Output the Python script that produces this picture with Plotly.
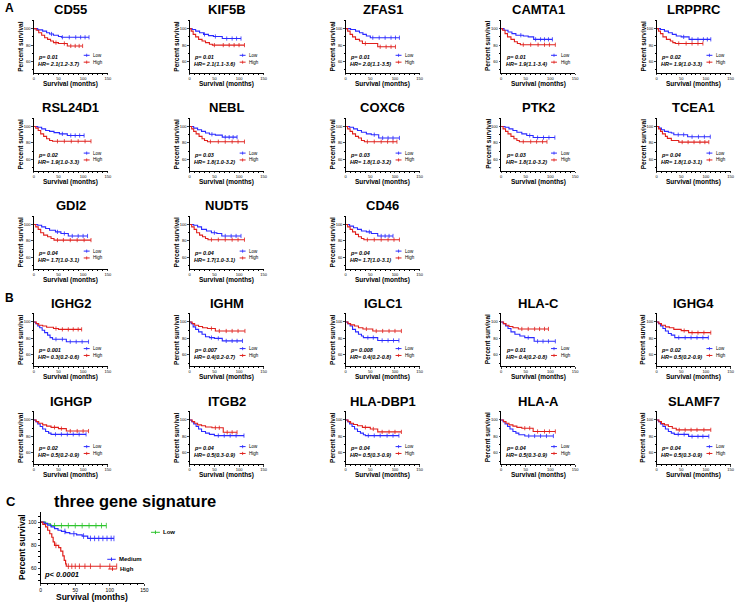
import plotly.graph_objects as go

# ------------------------------------------------------------------ data
A_GENES = ["CD55", "KIF5B", "ZFAS1", "CAMTA1", "LRPPRC",
           "RSL24D1", "NEBL", "COXC6", "PTK2", "TCEA1",
           "GDI2", "NUDT5", "CD46"]
A_P = ["0.01", "0.01", "0.01", "0.01", "0.02",
       "0.02", "0.03", "0.03", "0.03", "0.04",
       "0.04", "0.04", "0.04"]
A_HR = ["2.1(1.2-3.7)", "2.1(1.1-3.6)", "2.0(1.1-3.5)", "1.9(1.1-3.4)", "1.9(1.0-3.3)",
        "1.9(1.0-3.3)", "1.8(1.0-3.2)", "1.8(1.0-3.2)", "1.8(1.0-3.2)", "1.8(1.0-3.1)",
        "1.7(1.0-3.1)", "1.7(1.0-3.1)", "1.7(1.0-3.1)"]

B_GENES = ["IGHG2", "IGHM", "IGLC1", "HLA-C", "IGHG4",
           "IGHGP", "ITGB2", "HLA-DBP1", "HLA-A", "SLAMF7"]
B_P = ["0.001", "0.007", "0.008", "0.01", "0.02",
       "0.02", "0.04", "0.04", "0.04", "0.04"]
B_HR = ["0.3(0.2-0.6)", "0.4(0.2-0.7)", "0.4(0.2-0.8)", "0.4(0.2-0.8)", "0.5(0.2-0.9)",
        "0.5(0.2-0.9)", "0.5(0.3-0.9)", "0.5(0.3-0.9)", "0.5(0.3-0.9)", "0.5(0.3-0.9)"]

# Kaplan-Meier curves: (months, percent survival) at each step, and censor times
CD55_LOW = [(0, 100), (8, 98.5), (18, 97), (26, 95), (32, 93.5), (40, 92), (50, 90.5), (56, 89.5), (112, 89.5)]
CD55_LOW_C = [36, 58, 72, 85, 95, 104, 112]
CD55_HIGH = [(0, 100), (5, 98), (10, 95), (16, 92), (22, 89), (28, 87), (34, 85), (40, 83), (50, 82), (68, 79), (99, 79)]
CD55_HIGH_C = [45, 62, 75, 84, 92, 99]

KIF5B_LOW = [(0, 100), (5, 99), (12, 97), (20, 95), (28, 93), (38, 91.5), (48, 90.5), (66, 88), (104, 88)]
KIF5B_LOW_C = [30, 52, 75, 86, 95, 104]
KIF5B_HIGH = [(0, 100), (3, 97), (7, 93), (12, 90), (18, 87), (25, 85), (32, 83), (40, 81), (46, 80), (111, 80)]
KIF5B_HIGH_C = [50, 68, 80, 90, 100, 111]

ZFAS1_LOW = [(0, 100), (10, 99), (20, 97), (28, 95), (35, 93), (42, 91), (50, 89), (109, 89)]
ZFAS1_LOW_C = [55, 68, 80, 92, 101, 109]
ZFAS1_HIGH = [(0, 100), (4, 97), (9, 93), (14, 90), (20, 87), (28, 85), (34, 82), (65, 78), (101, 78)]
ZFAS1_HIGH_C = [40, 70, 82, 92, 101]

CAMTA1_LOW = [(0, 100), (6, 98), (14, 96), (22, 94), (30, 92), (45, 91), (55, 90), (66, 87), (104, 87)]
CAMTA1_LOW_C = [40, 70, 80, 88, 96, 104]
CAMTA1_HIGH = [(0, 100), (3, 98), (8, 94), (13, 90), (20, 87), (27, 84), (33, 82), (39, 80.5), (110, 80.5)]
CAMTA1_HIGH_C = [45, 60, 75, 88, 98, 110]

LRPPRC_LOW = [(0, 100), (8, 99), (16, 97), (24, 95), (32, 93), (40, 91), (50, 90), (66, 87), (110, 87)]
LRPPRC_LOW_C = [55, 72, 84, 95, 103, 110]
LRPPRC_HIGH = [(0, 100), (4, 97), (8, 94), (13, 90), (20, 87), (28, 85), (33, 83), (38, 82), (94, 82)]
LRPPRC_HIGH_C = [45, 60, 72, 84, 94]

RSL24D1_LOW = [(0, 100), (8, 99), (16, 97), (24, 95), (32, 94), (41, 92.5), (52, 91), (68, 89), (102, 89)]
RSL24D1_LOW_C = [58, 75, 84, 93, 102]
RSL24D1_HIGH = [(0, 100), (4, 98), (9, 95), (14, 91), (20, 88), (26, 85), (32, 83), (38, 82), (116, 82)]
RSL24D1_HIGH_C = [48, 62, 76, 90, 104, 116]

NEBL_LOW = [(0, 100), (8, 98), (16, 96), (24, 94), (32, 92), (40, 90.5), (52, 89.5), (66, 87), (96, 87)]
NEBL_LOW_C = [45, 72, 80, 88, 96]
NEBL_HIGH = [(0, 100), (4, 97), (8, 94), (13, 91), (19, 88), (25, 85), (30, 83), (36, 81.5), (111, 81.5)]
NEBL_HIGH_C = [42, 58, 72, 86, 98, 111]

COXC6_LOW = [(0, 100), (8, 99), (16, 97), (24, 95), (32, 93), (42, 91), (52, 90), (67, 86), (109, 86)]
COXC6_LOW_C = [58, 75, 86, 96, 109]
COXC6_HIGH = [(0, 100), (4, 97), (9, 94), (14, 91), (20, 88), (26, 86), (32, 83), (38, 81.5), (104, 81.5)]
COXC6_HIGH_C = [44, 58, 72, 85, 96, 104]

PTK2_LOW = [(0, 100), (8, 99), (16, 97), (24, 95), (32, 93), (42, 91), (52, 89), (65, 86.5), (109, 86.5)]
PTK2_LOW_C = [58, 74, 86, 97, 109]
PTK2_HIGH = [(0, 100), (4, 97), (9, 94), (14, 91), (20, 88), (26, 85), (32, 83), (37, 81.5), (93, 81.5)]
PTK2_HIGH_C = [45, 60, 72, 84, 93]

TCEA1_LOW = [(0, 100), (5, 98), (10, 96), (16, 94), (24, 93), (30, 92), (35, 90), (63, 87.5), (109, 87.5)]
TCEA1_LOW_C = [44, 55, 72, 85, 97, 109]
TCEA1_HIGH = [(0, 100), (4, 97), (8, 94), (12, 91), (18, 88), (22, 85.5), (30, 83), (45, 81), (106, 81)]
TCEA1_HIGH_C = [52, 64, 76, 88, 98, 106]

GDI2_LOW = [(0, 100), (8, 99), (16, 97), (24, 95), (32, 93), (44, 91), (55, 89), (70, 86), (109, 86)]
GDI2_LOW_C = [48, 62, 78, 90, 100, 109]
GDI2_HIGH = [(0, 100), (4, 97), (9, 94), (14, 90), (20, 87), (28, 85), (35, 83), (41, 81), (116, 81)]
GDI2_HIGH_C = [48, 60, 74, 88, 102, 116]

NUDT5_LOW = [(0, 100), (8, 99), (16, 97), (24, 94), (34, 92), (44, 90), (55, 89), (65, 86), (104, 86)]
NUDT5_LOW_C = [50, 72, 84, 94, 104]
NUDT5_HIGH = [(0, 100), (4, 97), (9, 94), (14, 90), (20, 87), (26, 85), (32, 83), (37, 81.5), (111, 81.5)]
NUDT5_HIGH_C = [44, 58, 72, 86, 98, 111]

CD46_LOW = [(0, 100), (8, 98), (16, 96), (24, 94), (32, 92), (42, 91), (52, 89), (65, 86), (96, 86)]
CD46_LOW_C = [48, 72, 80, 88, 96]
CD46_HIGH = [(0, 100), (4, 97), (9, 94), (14, 91), (20, 88), (26, 85), (32, 83), (37, 81.5), (109, 81.5)]
CD46_HIGH_C = [44, 58, 72, 86, 98, 109]

IGHG2_LOW = [(0, 100), (4, 98), (8, 95), (12, 93), (17, 90), (22, 87), (28, 84), (33, 81), (38, 79), (66, 76), (111, 76)]
IGHG2_LOW_C = [45, 58, 74, 86, 98, 111]
IGHG2_HIGH = [(0, 100), (5, 98), (10, 96), (18, 95), (26, 93.5), (40, 92), (50, 91), (97, 91)]
IGHG2_HIGH_C = [45, 58, 70, 80, 90, 97]

IGHM_LOW = [(0, 100), (3, 98), (7, 94), (12, 91), (18, 88), (25, 85), (32, 82), (40, 81), (50, 80), (66, 77), (107, 77)]
IGHM_LOW_C = [44, 58, 74, 86, 96, 107]
IGHM_HIGH = [(0, 100), (5, 98), (10, 96), (18, 94.5), (26, 93), (36, 92), (52, 89), (112, 89)]
IGHM_HIGH_C = [44, 60, 74, 86, 98, 112]

IGLC1_LOW = [(0, 100), (4, 98), (9, 95), (14, 91), (20, 88), (26, 85), (32, 83), (36, 81), (65, 77.5), (108, 77.5)]
IGLC1_LOW_C = [45, 56, 74, 86, 97, 108]
IGLC1_HIGH = [(0, 100), (5, 98), (10, 96.5), (18, 95), (26, 93), (35, 91.5), (55, 89), (113, 89)]
IGLC1_HIGH_C = [42, 62, 75, 88, 100, 113]

HLAC_LOW = [(0, 100), (4, 98), (9, 95), (14, 92), (20, 88), (28, 85), (38, 83), (48, 81), (67, 76.5), (110, 76.5)]
HLAC_LOW_C = [55, 74, 85, 96, 110]
HLAC_HIGH = [(0, 100), (5, 98), (10, 96), (16, 94.5), (24, 93), (35, 91.5), (96, 91.5)]
HLAC_HIGH_C = [42, 55, 68, 78, 88, 96]

IGHG4_LOW = [(0, 100), (4, 98), (8, 95), (13, 92), (18, 89), (24, 86), (30, 84), (37, 81), (105, 81)]
IGHG4_LOW_C = [45, 58, 70, 82, 94, 105]
IGHG4_HIGH = [(0, 100), (5, 98), (10, 96), (18, 94), (26, 93), (35, 91), (50, 89.5), (65, 87), (110, 87)]
IGHG4_HIGH_C = [56, 72, 84, 96, 110]

IGHGP_LOW = [(0, 100), (4, 98), (8, 95), (13, 92), (18, 89), (24, 86), (30, 84), (35, 82.5), (106, 82.5)]
IGHGP_LOW_C = [44, 56, 68, 80, 92, 106]
IGHGP_HIGH = [(0, 100), (5, 98), (10, 96), (18, 94), (26, 92.5), (35, 91), (50, 89.5), (66, 86.5), (111, 86.5)]
IGHGP_HIGH_C = [42, 56, 74, 88, 100, 111]

ITGB2_LOW = [(0, 100), (4, 98), (8, 95), (13, 92), (18, 89), (24, 86), (32, 84), (40, 82.5), (50, 81), (110, 81)]
ITGB2_LOW_C = [58, 70, 82, 94, 110]
ITGB2_HIGH = [(0, 100), (5, 98), (10, 96), (16, 94), (24, 93), (32, 91.5), (45, 90.5), (68, 85), (96, 85)]
ITGB2_HIGH_C = [52, 60, 76, 86, 96]

HLADBP1_LOW = [(0, 100), (4, 98), (8, 95), (13, 92), (18, 89), (24, 86), (30, 84), (36, 82), (40, 81), (108, 81)]
HLADBP1_LOW_C = [46, 58, 70, 84, 96, 108]
HLADBP1_HIGH = [(0, 100), (5, 98), (10, 96), (16, 94.5), (24, 93), (34, 91), (50, 89), (65, 85.5), (113, 85.5)]
HLADBP1_HIGH_C = [40, 56, 74, 88, 100, 113]

HLAA_LOW = [(0, 100), (4, 98), (8, 95), (13, 92), (18, 89), (24, 86), (30, 84), (36, 82), (48, 80.5), (106, 80.5)]
HLAA_LOW_C = [56, 68, 80, 92, 106]
HLAA_HIGH = [(0, 100), (5, 98), (10, 96), (16, 94), (24, 92.5), (32, 91), (42, 90), (65, 86), (110, 86)]
HLAA_HIGH_C = [48, 58, 74, 88, 98, 110]

SLAMF7_LOW = [(0, 100), (4, 98), (8, 95), (13, 92), (18, 89), (24, 86), (30, 84), (36, 82.5), (65, 80), (106, 80)]
SLAMF7_LOW_C = [44, 56, 72, 84, 94, 106]
SLAMF7_HIGH = [(0, 100), (5, 98), (10, 95.5), (16, 94), (24, 92), (32, 90), (40, 88), (110, 88)]
SLAMF7_HIGH_C = [46, 58, 70, 82, 96, 110]

# Panel C: three gene signature
C_LOW = [(0, 100), (7, 98.5), (14, 97), (95, 97)]
C_LOW_C = [20, 30, 40, 50, 60, 70, 80, 88, 95]
C_MED = [(0, 100), (5, 99), (10, 97.5), (15, 96), (20, 94.5), (25, 93), (30, 92), (36, 91),
         (42, 90), (52, 89), (60, 88), (68, 86), (106, 86)]
C_MED_C = [35, 48, 62, 72, 78, 84, 90, 96, 102, 106]
C_HIGH = [(0, 100), (3, 98), (7, 96), (10, 93), (13, 90), (16, 87), (18, 83), (20, 80), (26, 78),
          (29, 75), (32, 71), (34, 67), (36, 64), (37, 62), (110, 62)]
C_HIGH_C = [22, 40, 45, 50, 56, 64, 72, 86, 100, 110]

A_CURVES = [
    (CD55_LOW, CD55_LOW_C, CD55_HIGH, CD55_HIGH_C),
    (KIF5B_LOW, KIF5B_LOW_C, KIF5B_HIGH, KIF5B_HIGH_C),
    (ZFAS1_LOW, ZFAS1_LOW_C, ZFAS1_HIGH, ZFAS1_HIGH_C),
    (CAMTA1_LOW, CAMTA1_LOW_C, CAMTA1_HIGH, CAMTA1_HIGH_C),
    (LRPPRC_LOW, LRPPRC_LOW_C, LRPPRC_HIGH, LRPPRC_HIGH_C),
    (RSL24D1_LOW, RSL24D1_LOW_C, RSL24D1_HIGH, RSL24D1_HIGH_C),
    (NEBL_LOW, NEBL_LOW_C, NEBL_HIGH, NEBL_HIGH_C),
    (COXC6_LOW, COXC6_LOW_C, COXC6_HIGH, COXC6_HIGH_C),
    (PTK2_LOW, PTK2_LOW_C, PTK2_HIGH, PTK2_HIGH_C),
    (TCEA1_LOW, TCEA1_LOW_C, TCEA1_HIGH, TCEA1_HIGH_C),
    (GDI2_LOW, GDI2_LOW_C, GDI2_HIGH, GDI2_HIGH_C),
    (NUDT5_LOW, NUDT5_LOW_C, NUDT5_HIGH, NUDT5_HIGH_C),
    (CD46_LOW, CD46_LOW_C, CD46_HIGH, CD46_HIGH_C),
]
B_CURVES = [
    (IGHG2_LOW, IGHG2_LOW_C, IGHG2_HIGH, IGHG2_HIGH_C),
    (IGHM_LOW, IGHM_LOW_C, IGHM_HIGH, IGHM_HIGH_C),
    (IGLC1_LOW, IGLC1_LOW_C, IGLC1_HIGH, IGLC1_HIGH_C),
    (HLAC_LOW, HLAC_LOW_C, HLAC_HIGH, HLAC_HIGH_C),
    (IGHG4_LOW, IGHG4_LOW_C, IGHG4_HIGH, IGHG4_HIGH_C),
    (IGHGP_LOW, IGHGP_LOW_C, IGHGP_HIGH, IGHGP_HIGH_C),
    (ITGB2_LOW, ITGB2_LOW_C, ITGB2_HIGH, ITGB2_HIGH_C),
    (HLADBP1_LOW, HLADBP1_LOW_C, HLADBP1_HIGH, HLADBP1_HIGH_C),
    (HLAA_LOW, HLAA_LOW_C, HLAA_HIGH, HLAA_HIGH_C),
    (SLAMF7_LOW, SLAMF7_LOW_C, SLAMF7_HIGH, SLAMF7_HIGH_C),
]

X_TICKS = [0, 50, 100, 150]
Y_TICKS = [60, 80, 100]

# ------------------------------------------------------------------ layout helpers
W, H = 739, 602
FONT = "Arial, Liberation Sans, sans-serif"
BLUE = "#2b2bff"
RED = "#e0201c"
GREEN = "#2dc42d"


def fx(px):
    return px / W


def fy(py):
    return 1 - py / H


def surv_at(curve, t):
    val = curve[0][1]
    for tt, ss in curve:
        if tt <= t:
            val = ss
    return val


fig = go.Figure()
layout = {}
annotations = []
shapes = []


def ax_names(n):
    return ("x" if n == 1 else f"x{n}"), ("y" if n == 1 else f"y{n}")


def add_curve(n, curve, cens, color, width=1.1, msize=3):
    xa, ya = ax_names(n)
    fig.add_trace(go.Scatter(
        x=[p[0] for p in curve], y=[p[1] for p in curve], mode="lines",
        line=dict(color=color, width=width, shape="hv"),
        xaxis=xa, yaxis=ya, showlegend=False, hoverinfo="skip"))
    fig.add_trace(go.Scatter(
        x=cens, y=[surv_at(curve, t) for t in cens], mode="markers",
        marker=dict(symbol="line-ns", size=msize, line=dict(color=color, width=0.8)),
        xaxis=xa, yaxis=ya, showlegend=False, hoverinfo="skip"))


def small_panel(n, x0, ybot, gene, p, hr, curves):
    pw, ph = 74.5, 52.7
    xa, ya = ax_names(n)
    key_x = "xaxis" if n == 1 else f"xaxis{n}"
    key_y = "yaxis" if n == 1 else f"yaxis{n}"
    layout[key_x] = dict(
        domain=[fx(x0), fx(x0 + pw)], anchor=ya, range=[0, 150],
        tickvals=X_TICKS, ticks="outside", ticklen=1.5, tickwidth=0.8,
        showline=True, linecolor="black", linewidth=1, showgrid=False, zeroline=False,
        tickfont=dict(size=4, family=FONT, color="black"),
        minor=dict(dtick=10, ticks="outside", ticklen=1, tickwidth=0.6, tickcolor="black"))
    layout[key_y] = dict(
        domain=[fy(ybot), fy(ybot - ph)], anchor=xa, range=[46.5, 110.5],
        tickvals=Y_TICKS, ticks="outside", ticklen=1.5, tickwidth=0.8,
        showline=True, linecolor="black", linewidth=1, showgrid=False, zeroline=False,
        tickfont=dict(size=4, family=FONT, color="black"),
        minor=dict(dtick=10, ticks="outside", ticklen=1, tickwidth=0.6, tickcolor="black"))
    low, low_c, high, high_c = curves
    add_curve(n, low, low_c, BLUE)
    add_curve(n, high, high_c, RED)
    # title
    annotations.append(dict(text=f"<b>{gene}</b>", x=fx(x0 + pw / 2), y=fy(ybot - 63),
                            xref="paper", yref="paper", showarrow=False,
                            font=dict(size=13, family=FONT, color="black"),
                            xanchor="center", yanchor="middle"))
    annotations.append(dict(text="<b>Percent survival</b>", x=fx(x0 - 13.5), y=fy(ybot - ph / 2),
                            xref="paper", yref="paper", showarrow=False, textangle=-90,
                            font=dict(size=6.5, family=FONT, color="black"),
                            xanchor="center", yanchor="middle"))
    annotations.append(dict(text="<b>Survival (months)</b>", x=fx(x0 + pw / 2), y=fy(ybot + 11),
                            xref="paper", yref="paper", showarrow=False,
                            font=dict(size=6.5, family=FONT, color="black"),
                            xanchor="center", yanchor="middle"))
    dx = f"{xa} domain"
    dy = f"{ya} domain"
    annotations.append(dict(text=f"<b><i>p= {p}</i></b>", x=0.035, y=0.30, xref=dx, yref=dy,
                            showarrow=False, font=dict(size=5.5, family=FONT, color="black"),
                            xanchor="left", yanchor="middle"))
    annotations.append(dict(text=f"<b><i>HR= {hr}</i></b>", x=0.035, y=0.17, xref=dx, yref=dy,
                            showarrow=False, font=dict(size=5.5, family=FONT, color="black"),
                            xanchor="left", yanchor="middle"))
    for label, yy, col in (("Low", 0.33, BLUE), ("High", 0.20, RED)):
        shapes.append(dict(type="line", xref=dx, yref=dy, x0=0.675, x1=0.755, y0=yy, y1=yy,
                           line=dict(color=col, width=1)))
        shapes.append(dict(type="line", xref=dx, yref=dy, x0=0.715, x1=0.715, y0=yy - 0.03,
                           y1=yy + 0.03, line=dict(color=col, width=0.8)))
        annotations.append(dict(text=label, x=0.78, y=yy, xref=dx, yref=dy, showarrow=False,
                                font=dict(size=4.5, family=FONT, color="black"),
                                xanchor="left", yanchor="middle"))


COL_X = [33, 190, 347, 503.5, 660]
A_ROWS = [72.7, 170.5, 268.5]
B_ROWS = [366, 464]

n = 0
for i, gene in enumerate(A_GENES):
    n += 1
    small_panel(n, COL_X[i % 5], A_ROWS[i // 5], gene, A_P[i], A_HR[i], A_CURVES[i])
for i, gene in enumerate(B_GENES):
    n += 1
    small_panel(n, COL_X[i % 5], B_ROWS[i // 5], gene, B_P[i], B_HR[i], B_CURVES[i])

# ---------------- panel C
n += 1
cx0, cx1, cyb, cyt = 40, 144.3, 582.5, 511.7
xa, ya = ax_names(n)
layout[f"xaxis{n}"] = dict(
    domain=[fx(cx0), fx(cx1)], anchor=ya, range=[0, 150], tickvals=X_TICKS,
    ticks="outside", ticklen=2, tickwidth=1, showline=True, linecolor="black", linewidth=1.2,
    showgrid=False, zeroline=False, tickfont=dict(size=5, family=FONT, color="black"),
    minor=dict(dtick=10, ticks="outside", ticklen=1.5, tickwidth=0.8, tickcolor="black"))
layout[f"yaxis{n}"] = dict(
    domain=[fy(cyb), fy(cyt)], anchor=xa, range=[48, 109], tickvals=Y_TICKS,
    ticks="outside", ticklen=2, tickwidth=1, showline=True, linecolor="black", linewidth=1.2,
    showgrid=False, zeroline=False, tickfont=dict(size=5, family=FONT, color="black"),
    minor=dict(dtick=5, ticks="outside", ticklen=1.5, tickwidth=0.8, tickcolor="black"))
add_curve(n, C_LOW, C_LOW_C, GREEN, width=1.2, msize=4)
add_curve(n, C_MED, C_MED_C, BLUE, width=1.2, msize=4)
add_curve(n, C_HIGH, C_HIGH_C, RED, width=1.2, msize=4)

annotations.append(dict(text="<b>three gene signature</b>", x=fx(134.7), y=fy(500.7),
                        xref="paper", yref="paper", showarrow=False,
                        font=dict(size=16.5, family=FONT, color="black"),
                        xanchor="center", yanchor="middle"))
annotations.append(dict(text="<b>Percent survival</b>", x=fx(21), y=fy((cyb + cyt) / 2),
                        xref="paper", yref="paper", showarrow=False, textangle=-90,
                        font=dict(size=8.5, family=FONT, color="black"),
                        xanchor="center", yanchor="middle"))
annotations.append(dict(text="<b>Survival (months)</b>", x=fx(92), y=fy(597),
                        xref="paper", yref="paper", showarrow=False,
                        font=dict(size=8.5, family=FONT, color="black"),
                        xanchor="center", yanchor="middle"))
annotations.append(dict(text="<b><i>p&lt; 0.0001</i></b>", x=fx(41.5), y=fy(574.3),
                        xref="paper", yref="paper", showarrow=False,
                        font=dict(size=7.5, family=FONT, color="black"),
                        xanchor="left", yanchor="middle"))
for label, lx0, lx1, ly, col in (("Low", 151, 160, 532.3, GREEN),
                                  ("Medium", 107, 115.5, 559.3, BLUE),
                                  ("High", 108, 116.5, 569, RED)):
    shapes.append(dict(type="line", xref="paper", yref="paper", x0=fx(lx0), x1=fx(lx1),
                       y0=fy(ly), y1=fy(ly), line=dict(color=col, width=1)))
    shapes.append(dict(type="line", xref="paper", yref="paper", x0=fx((lx0 + lx1) / 2),
                       x1=fx((lx0 + lx1) / 2), y0=fy(ly - 1.8), y1=fy(ly + 1.8),
                       line=dict(color=col, width=1)))
    annotations.append(dict(text=f"<b>{label}</b>", x=fx(lx1 + 1.5), y=fy(ly), xref="paper",
                            yref="paper", showarrow=False,
                            font=dict(size=6, family=FONT, color="black"),
                            xanchor="left", yanchor="middle"))

# panel letters
for letter, px, py, sz in (("A", 2, 8, 12), ("B", 2, 298, 12), ("C", 3, 501, 13)):
    annotations.append(dict(text=f"<b>{letter}</b>", x=fx(px), y=fy(py), xref="paper",
                            yref="paper", showarrow=False,
                            font=dict(size=sz, family=FONT, color="black"),
                            xanchor="left", yanchor="middle"))

fig.update_layout(**layout)
fig.update_layout(
    width=W, height=H, margin=dict(l=0, r=0, t=0, b=0),
    paper_bgcolor="white", plot_bgcolor="white",
    annotations=annotations, shapes=shapes, showlegend=False,
    font=dict(family=FONT, color="black"))

fig.write_html("out.html", config={"displayModeBar": False},
               post_script="document.body.style.margin='0';")
